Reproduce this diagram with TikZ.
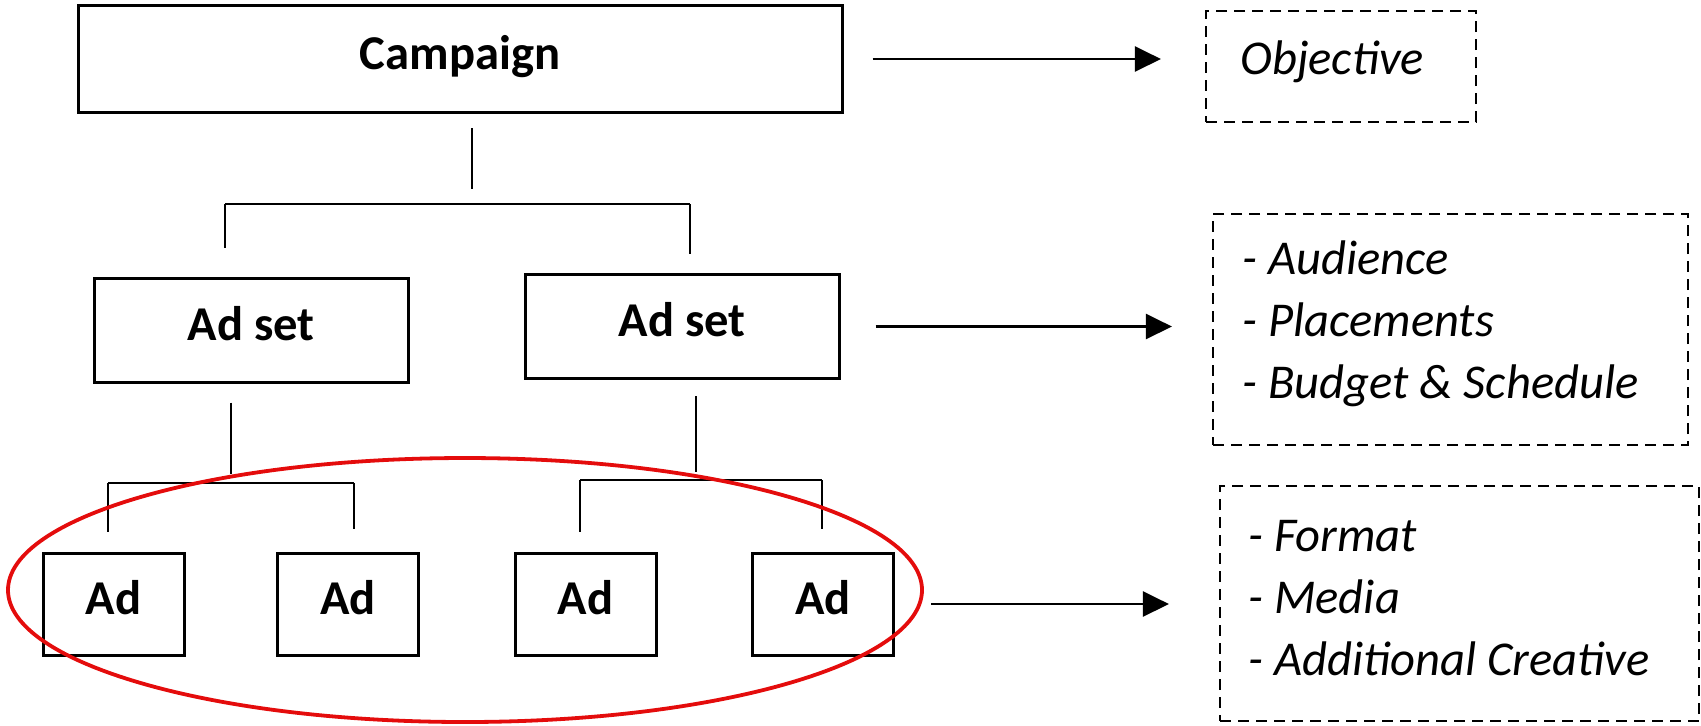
\documentclass[tikz,border=0pt]{standalone}
\usepackage{fontspec}
\setmainfont{Carlito}
\usetikzlibrary{arrows.meta}
\usetikzlibrary{shapes.geometric}

\definecolor{ovalred}{RGB}{228,12,12}

\tikzset{
  box/.style={draw, line width=1.5pt, inner sep=0pt, text height=15pt, text depth=5pt,
    font=\bfseries\fontsize{24.3}{28}\selectfont},
  adbox/.style={box, minimum width=70.5pt, minimum height=51pt},
  setbox/.style={box, minimum width=157pt, minimum height=52pt},
  note/.style={draw, dashed, dash pattern=on 5.5pt off 3.5pt, line width=1.1pt},
  notetext/.style={anchor=west, inner sep=0pt, align=left,
    font=\itshape\fontsize{24.3}{31}\selectfont},
  link/.style={line width=1.2pt},
  goes/.style={line width=1.3pt, -{Triangle[length=13pt,width=12.5pt]}},
  oval/.style={ellipse, draw=ovalred, line width=1.9pt, inner sep=0pt},
}

\begin{document}
\begin{tikzpicture}[x=0.5pt,y=-0.5pt]
\useasboundingbox (0,0) rectangle (1701,725);

%%% hierarchy
\node[box, minimum width=382pt, minimum height=53.5pt] (camp) at (460,59) {Campaign};
\node[setbox] (setA) at (251,330) {Ad set};
\node[setbox] (setB) at (682,326.5) {Ad set};
\foreach \n/\x in {ad1/113.5, ad2/348, ad3/585.5, ad4/823}{
\node[adbox] (\n) at (\x,604) {Ad};
}

%%% what each level sets
\node[note, minimum width=135pt, minimum height=55.5pt] (obj) at (1341,66.5) {};
\node[note, minimum width=237.5pt, minimum height=115.5pt] (setinfo) at (1450.5,329.5) {};
\node[note, minimum width=239.5pt, minimum height=117.5pt] (adinfo) at (1459.5,603.5) {};
\node[notetext] (objtext) at ([xshift=17.5pt,yshift=2.5pt]obj.west) {Objective};
\node[notetext] (settext) at ([xshift=15pt,yshift=3pt]setinfo.west)
  {- Audience\\- Placements\\- Budget \& Schedule};
\node[notetext] (adtext) at ([xshift=14.5pt,yshift=2.5pt]adinfo.west)
  {- Format\\- Media\\- Additional Creative};

%%% forks
\coordinate (forkC) at (472,204);
\coordinate (barCl) at (225,204);
\coordinate (barCr) at (690,204);
\coordinate (forkA) at (231,483);
\coordinate (barAl) at (108,483);
\coordinate (barAr) at (354,483);
\coordinate (forkB) at (696,480);
\coordinate (barBl) at (580,480);
\coordinate (barBr) at (822,480);

% stems
\foreach \p/\f/\a/\b in {camp/forkC/7/7.5, setA/forkA/9.5/4.5, setB/forkB/8/4}{
\draw[link, shorten <=\a pt, shorten >=\b pt] (\p.south -| \f) -- (\f);
}
% bars
\draw[link] (barCl) -- (barCr) (barAl) -- (barAr) (barBl) -- (barBr);
% drops
\foreach \b/\c/\s in {barCl/setA/14.5, barCr/setB/9.5, barAl/ad1/10, barAr/ad2/11.5,
barBl/ad3/10, barBr/ad4/11.5}{
\draw[link, shorten >=\s pt] (\b) -- (\b |- \c.north);
}

%%% arrows
\draw[goes, shorten <=14.5pt, shorten >=22pt] (camp.east) -- (camp.east -| obj.west);
\draw[goes, shorten <=17.5pt, shorten >=20pt] (setB.east) -- (setB.east -| setinfo.west);
\draw[goes, shorten <=18pt, shorten >=25pt] (ad4.east) -- (ad4.east -| adinfo.west);

%%% ads ringed
\node[oval, minimum width=457pt, minimum height=132pt] (adgroup) at (465,590) {};

\end{tikzpicture}
\end{document}
